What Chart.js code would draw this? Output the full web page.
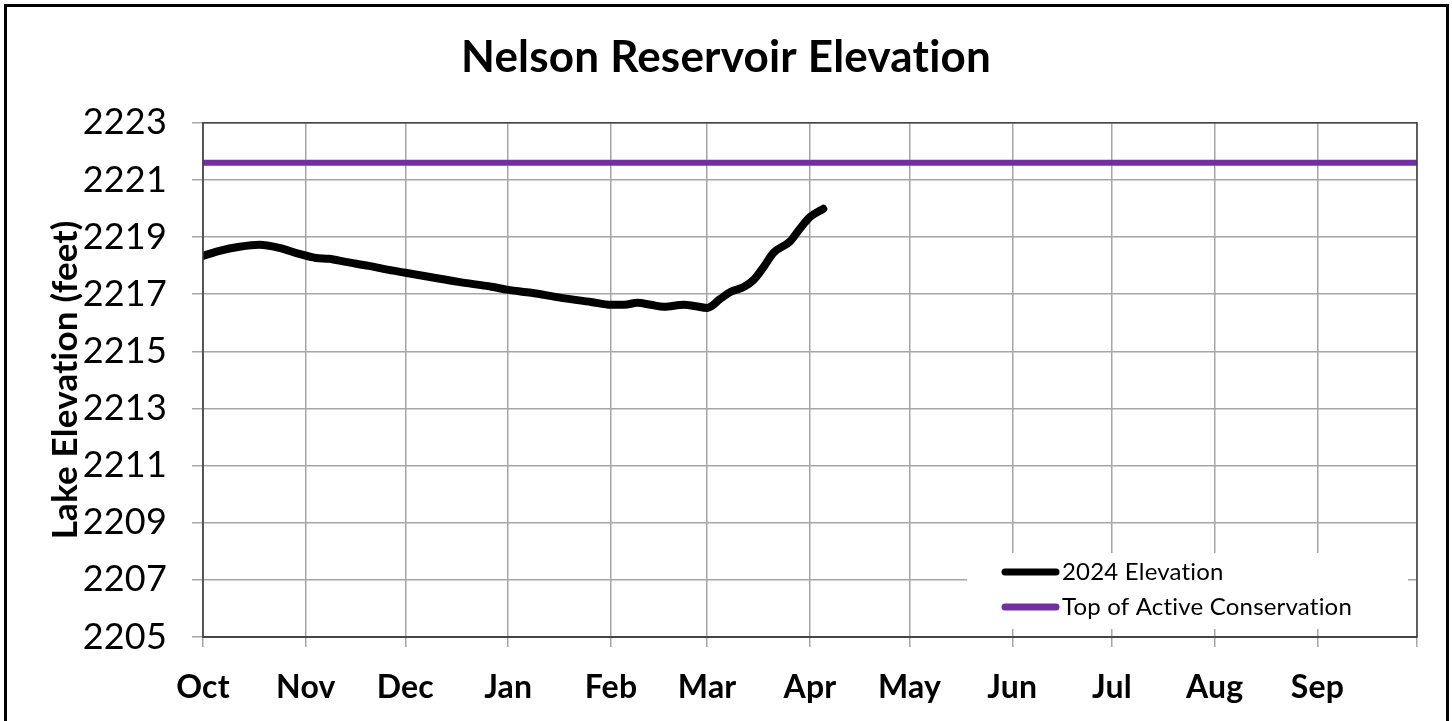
<!DOCTYPE html>
<html>
<head>
<meta charset="utf-8">
<script src="https://cdn.jsdelivr.net/npm/chart.js@4.4.1/dist/chart.umd.min.js"></script>
<style>
html,body{margin:0;padding:0;background:#fff;overflow:hidden}
#wrap{position:absolute;left:0;top:0;width:1452px;height:721px}
#frame{position:absolute;left:4px;top:4px;width:1439px;height:760px;border:3px solid #000;pointer-events:none}
</style>
</head>
<body>
<div id="wrap"><canvas id="elevChart" width="1452" height="721"></canvas></div>
<div id="frame"></div>
<script>
// water year Oct 1 2023 .. Sep 30 2024, x = days since Oct 1
const monthLabels = ['Oct','Nov','Dec','Jan','Feb','Mar','Apr','May','Jun','Jul','Aug','Sep',''];
const monthStarts = [0,31,61,92,123,152,183,213,244,274,305,336,366];
const yTicks = [2205,2207,2209,2211,2213,2215,2217,2219,2221,2223];

// 2024 elevation
const elevDays = [0,5,11,17,23,29,34,38,43,50,56,61,68,77,87,92,99,108,117,123,127,131,135,139,145,148,152,156,159,163,166,169,172,177,180,183,187];
const elevFeet = [2218.34,2218.52,2218.66,2218.73,2218.62,2218.41,2218.27,2218.24,2218.13,2217.99,2217.85,2217.75,2217.61,2217.43,2217.26,2217.15,2217.05,2216.87,2216.73,2216.63,2216.63,2216.70,2216.63,2216.56,2216.63,2216.59,2216.52,2216.84,2217.08,2217.25,2217.5,2217.95,2218.45,2218.85,2219.3,2219.7,2219.99];

const conservationDays = [0,366];
const conservationFeet = [2221.6,2221.6];

const FONT = 'Lato, "Open Sans", sans-serif';

// no "ti" ligatures (Lato has them, the original font does not show them)
const noLig = {
  id:'noLig',
  beforeInit(chart){ const c = chart.ctx; c.textRendering = 'optimizeSpeed'; c.letterSpacing = '0.2px'; },
  beforeDraw(chart){ const c = chart.ctx; c.textRendering = 'optimizeSpeed'; c.letterSpacing = '0.2px'; }
};

// frame round the plot + legend box inside the plot
const extras = {
  id:'extras',
  afterDraw(chart){
    const {ctx, chartArea:a} = chart;
    ctx.save();
    ctx.strokeStyle = '#404040'; ctx.lineWidth = 1.5;
    ctx.strokeRect(a.left, a.top, a.right-a.left, a.bottom-a.top);
    // legend
    const lx = 967, ly = 553, lw = 441, lh = 76;
    ctx.fillStyle = '#fff';
    ctx.fillRect(lx, ly, lw, lh);
    chart.data.datasets.forEach((ds,i)=>{
      const y = 572 + i*35;
      ctx.strokeStyle = ds.borderColor; ctx.lineWidth = 7; ctx.lineCap = 'round';
      ctx.beginPath(); ctx.moveTo(1005,y); ctx.lineTo(1056,y); ctx.stroke();
      ctx.fillStyle = '#000'; ctx.font = '24px '+FONT; ctx.textBaseline = 'middle'; ctx.textAlign = 'left';
      ctx.fillText(ds.label, 1062, y);
    });
    ctx.restore();
  }
};

new Chart(document.getElementById('elevChart'), {
  type:'line',
  data:{
    datasets:[{
      label:'2024 Elevation',
      data: elevDays.map((d,i)=>({x:d,y:elevFeet[i]})),
      borderColor:'#000', borderWidth:8, pointRadius:0,
      cubicInterpolationMode:'monotone', borderCapStyle:'round', borderJoinStyle:'round'
    },{
      label:'Top of Active Conservation',
      data: conservationDays.map((d,i)=>({x:d,y:conservationFeet[i]})),
      borderColor:'#7030A0', borderWidth:6, pointRadius:0
    }]
  },
  options:{
    responsive:false, animation:false,
    layout:{padding:{left:35,right:35,top:0,bottom:0}},
    plugins:{
      legend:{display:false},
      tooltip:{enabled:false},
      title:{display:true, text:'Nelson Reservoir Elevation', color:'#000',
        font:{family:FONT, size:44, weight:'bold', lineHeight:1.2}, padding:{top:31,bottom:39}}
    },
    scales:{
      x:{
        type:'linear', min:0, max:366,
        afterBuildTicks(s){ s.ticks = monthStarts.map(v=>({value:v})); },
        afterFit(s){ s.height = 84; },
        ticks:{ color:'#000', font:{family:FONT, size:32, weight:'bold'}, padding:21, maxRotation:0, autoSkip:false,
          callback:(v)=>monthLabels[monthStarts.indexOf(v)] },
        grid:{ color:'#a6a6a6', lineWidth:1.5, tickLength:10 },
        border:{ color:'#595959', width:2 }
      },
      y:{
        min:2205, max:2223,
        afterBuildTicks(s){ s.ticks = yTicks.map(v=>({value:v})); },
        afterFit(s){ s.width = 168; },
        ticks:{ color:'#000', font:{family:FONT, size:36}, padding:25, callback:(v)=>String(v) },
        grid:{ color:'#a6a6a6', lineWidth:1.5, tickLength:11 },
        border:{ color:'#808080', width:1.5 },
        title:{ display:true, text:'Lake Elevation (feet)', color:'#000',
          font:{family:FONT, size:35, weight:'bold', lineHeight:1.2}, padding:{top:10,bottom:0} }
      }
    }
  },
  plugins:[noLig, extras]
});
</script>
</body>
</html>
